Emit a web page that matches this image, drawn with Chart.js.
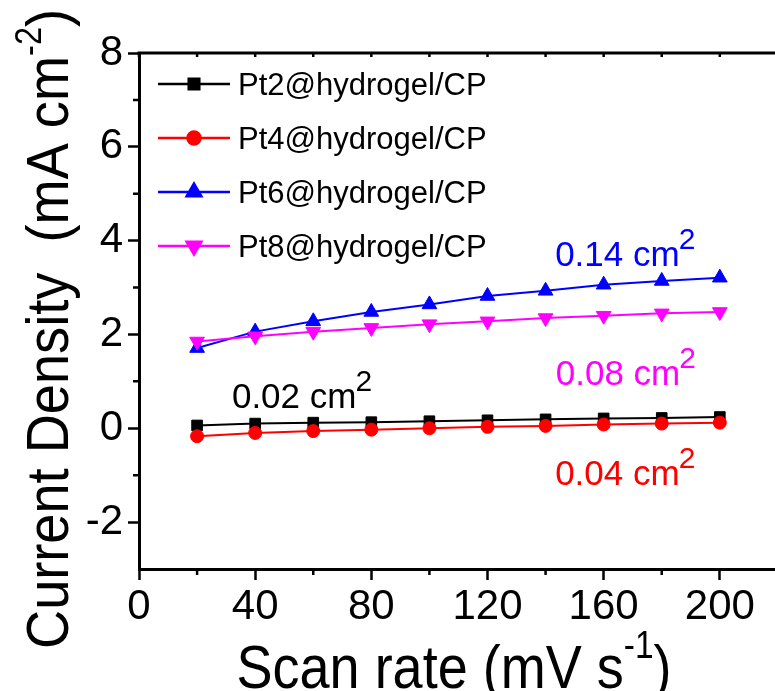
<!DOCTYPE html>
<html lang="en">
<head>
<meta charset="UTF-8">
<title>Current Density vs Scan rate</title>
<style>
  html, body { margin: 0; padding: 0; background: #fff; }
  #wrap { width: 775px; height: 691px; }
</style>
</head>
<body>
<div id="wrap"><canvas id="chart" width="775" height="691"></canvas></div>

<script src="https://cdn.jsdelivr.net/npm/chart.js@4"></script>
<script>
    // data
    const scanRates = [20, 40, 60, 80, 100, 120, 140, 160, 180, 200];
    const pt2 = [0.06, 0.10, 0.12, 0.13, 0.15, 0.17, 0.19, 0.21, 0.22, 0.24];
    const pt4 = [-0.17, -0.10, -0.06, -0.03, 0.00, 0.03, 0.05, 0.08, 0.10, 0.12];
    const pt6 = [1.71, 2.06, 2.28, 2.48, 2.64, 2.82, 2.93, 3.06, 3.14, 3.21];
    const pt8 = [1.85, 1.96, 2.06, 2.14, 2.22, 2.28, 2.35, 2.40, 2.45, 2.48];
    const seriesNames = ['Pt2@hydrogel/CP', 'Pt4@hydrogel/CP', 'Pt6@hydrogel/CP', 'Pt8@hydrogel/CP'];
    const areaLabels = ['0.02 cm', '0.04 cm', '0.14 cm', '0.08 cm'];
    const xTicks = [0, 40, 80, 120, 160, 200];
    const xMinor = [20, 60, 100, 140, 180];
    const yTicks = [-2, 0, 2, 4, 6, 8];
    const yMinor = [-1, 1, 3, 5, 7];

    const FONT = "'Liberation Sans', Arial, sans-serif";
    const colors = ['#000000', '#ff0000', '#0000ff', '#ff00ff'];
    const styles = [
        { pointStyle: 'rect', radius: 7.5, rotation: 0 },
        { pointStyle: 'circle', radius: 6.5, rotation: 0 },
        { pointStyle: 'triangle', radius: 8.5, rotation: 0 },
        { pointStyle: 'triangle', radius: 8.5, rotation: 180 }
    ];
    // where the "x cm2" notes sit, in data units (x, baseline y)
    const notePos = [[32, 0.43], [143.3, -1.21], [143.3, 3.46], [143.5, 0.92]];

    const allSeries = [pt2, pt4, pt6, pt8];
    const datasets = allSeries.map((vals, i) => ({
        label: seriesNames[i],
        data: vals.map((v, j) => ({ x: scanRates[j], y: v })),
        borderColor: colors[i],
        backgroundColor: colors[i],
        borderWidth: 2,
        tension: 0,
        pointStyle: styles[i].pointStyle,
        pointRadius: styles[i].radius,
        pointRotation: styles[i].rotation,
        pointBackgroundColor: colors[i],
        pointBorderColor: colors[i],
        pointBorderWidth: 1,
        order: 4 - i
    }));

    // text with superscripts, squeezed to a given length
    function drawRich(ctx, parts, size, length) {
        let w = 0;
        parts.forEach(p => {
            ctx.font = (size * p[1]) + 'px ' + FONT;
            w += ctx.measureText(p[0]).width;
        });
        ctx.scale(length / w, 1);
        let x = -w / 2;
        parts.forEach(p => {
            ctx.font = (size * p[1]) + 'px ' + FONT;
            ctx.fillText(p[0], x, -p[2] * size);
            x += ctx.measureText(p[0]).width;
        });
    }

    const decorations = {
        id: 'decorations',
        afterDraw(chart) {
            const ctx = chart.ctx;
            const a = chart.chartArea;
            const xs = chart.scales.x, ys = chart.scales.y;
            ctx.save();
            ctx.strokeStyle = '#000';
            ctx.fillStyle = '#000';

            // top frame line
            ctx.lineWidth = 3;
            ctx.beginPath();
            ctx.moveTo(a.left - 1.5, a.top);
            ctx.lineTo(a.right, a.top);
            ctx.stroke();

            // minor ticks
            ctx.lineWidth = 2.5;
            ctx.beginPath();
            xMinor.forEach(v => {
                const px = xs.getPixelForValue(v);
                ctx.moveTo(px, a.bottom);
                ctx.lineTo(px, a.bottom + 6);
            });
            xTicks.concat(xMinor).forEach(v => {
                const px = xs.getPixelForValue(v);
                ctx.moveTo(px, a.top);
                ctx.lineTo(px, a.top + 4);
            });
            yMinor.forEach(v => {
                const py = ys.getPixelForValue(v);
                ctx.moveTo(a.left, py);
                ctx.lineTo(a.left - 6, py);
            });
            ctx.stroke();

            // axis titles
            ctx.textBaseline = 'alphabetic';
            ctx.textAlign = 'left';
            ctx.save();
            ctx.translate(454, 688);
            drawRich(ctx, [['Scan rate (mV s', 1, 0], ['-1', 0.62, 0.48], [')', 1, 0]], 62, 435);
            ctx.restore();

            ctx.save();
            ctx.translate(68, 329);
            ctx.rotate(-Math.PI / 2);
            drawRich(ctx, [['Current Density  (mA cm', 1, 0], ['-2', 0.6, 0.45], [')', 1, 0]], 60, 640);
            ctx.restore();

            // legend
            const lx = a.left + 19, ly = a.top + 31, gap = 54;
            chart.data.datasets.forEach((ds, i) => {
                const y = ly + i * gap;
                ctx.strokeStyle = ds.borderColor;
                ctx.fillStyle = ds.borderColor;
                ctx.lineWidth = 2.5;
                ctx.beginPath();
                ctx.moveTo(lx, y);
                ctx.lineTo(lx + 72, y);
                ctx.stroke();
                Chart.helpers.drawPoint(ctx, {
                    pointStyle: ds.pointStyle,
                    radius: ds.pointRadius,
                    rotation: ds.pointRotation,
                    borderWidth: 1
                }, lx + 36, y);
                ctx.fillStyle = '#000';
                ctx.font = '31px ' + FONT;
                ctx.fillText(ds.label, lx + 80, y + 11);
            });

            // area notes
            areaLabels.forEach((t, i) => {
                const px = xs.getPixelForValue(notePos[i][0]);
                const py = ys.getPixelForValue(notePos[i][1]);
                ctx.fillStyle = colors[i];
                ctx.font = '35px ' + FONT;
                ctx.fillText(t, px, py);
                const w = ctx.measureText(t).width;
                ctx.font = '30px ' + FONT;
                ctx.fillText('2', px + w - 1, py - 17);
            });
            ctx.restore();
        }
    };

    const axisCommon = {
        type: 'linear',
        grid: {
            display: true,
            drawOnChartArea: false,
            drawTicks: true,
            tickLength: 11,
            tickWidth: 2.5,
            tickColor: '#000'
        },
        border: { display: true, color: '#000', width: 3 },
        ticks: {
            color: '#000',
            font: { family: FONT, size: 42 },
            autoSkip: false,
            maxRotation: 0
        }
    };

    new Chart(document.getElementById('chart'), {
        type: 'line',
        data: { datasets },
        options: {
            responsive: false,
            animation: false,
            devicePixelRatio: 1,
            layout: { autoPadding: false, padding: { top: 53, right: 0, left: 0, bottom: 0 } },
            plugins: { legend: { display: false }, tooltip: { enabled: false } },
            scales: {
                x: Object.assign({}, axisCommon, {
                    min: 0,
                    max: 219, // frame is cropped at the right edge of the figure
                    ticks: Object.assign({}, axisCommon.ticks, { padding: 2 }),
                    afterBuildTicks: s => { s.ticks = xTicks.map(v => ({ value: v })); },
                    afterFit: s => { s.height = 122; s.paddingLeft = 0; s.paddingRight = 0; }
                }),
                y: Object.assign({}, axisCommon, {
                    min: -3,
                    max: 8,
                    ticks: Object.assign({}, axisCommon.ticks, { padding: 5 }),
                    afterBuildTicks: s => { s.ticks = yTicks.map(v => ({ value: v })); },
                    afterFit: s => { s.width = 139; s.paddingTop = 0; s.paddingBottom = 0; }
                })
            }
        },
        plugins: [decorations]
    });
</script>
</body>
</html>
